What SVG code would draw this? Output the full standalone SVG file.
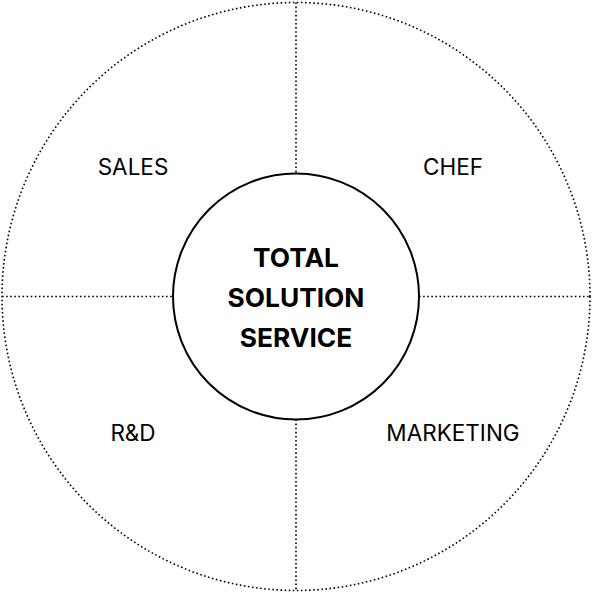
<svg xmlns="http://www.w3.org/2000/svg" width="592" height="592" viewBox="0 0 592 592">
<style>
.dot{fill:none;stroke:#000;stroke-width:1.6;stroke-dasharray:1.6 2.5}
.lbl{font-family:Inter,"Liberation Sans",sans-serif;font-size:22.5px;fill:#000;text-anchor:middle;dominant-baseline:central}
.ttl{font-family:Inter,"Liberation Sans",sans-serif;font-size:26.3px;font-weight:bold;fill:#000;text-anchor:middle;dominant-baseline:central}
</style>
<rect width="592" height="592" fill="#fff"/>
<g id="outer"><circle class="dot" cx="296" cy="296.5" r="294"/></g>
<g id="connectors">
<line class="dot" x1="296" y1="2.5" x2="296" y2="173.5"/>
<line class="dot" x1="296" y1="419.5" x2="296" y2="590.5"/>
<line class="dot" x1="2" y1="296.5" x2="173" y2="296.5"/>
<line class="dot" x1="419" y1="296.5" x2="590" y2="296.5"/>
</g>
<g id="center">
<circle cx="296" cy="296.5" r="123" fill="#fff" stroke="#000" stroke-width="2"/>
<text class="ttl" x="296" y="257.5">TOTAL</text>
<text class="ttl" x="296" y="297.5">SOLUTION</text>
<text class="ttl" x="296" y="337.5">SERVICE</text>
</g>
<g id="sales"><text class="lbl" x="133" y="166.5">SALES</text></g>
<g id="chef"><text class="lbl" x="453" y="166.5">CHEF</text></g>
<g id="rd"><text class="lbl" x="133" y="432.5">R&amp;D</text></g>
<g id="marketing"><text class="lbl" x="453" y="432.5">MARKETING</text></g>
</svg>
